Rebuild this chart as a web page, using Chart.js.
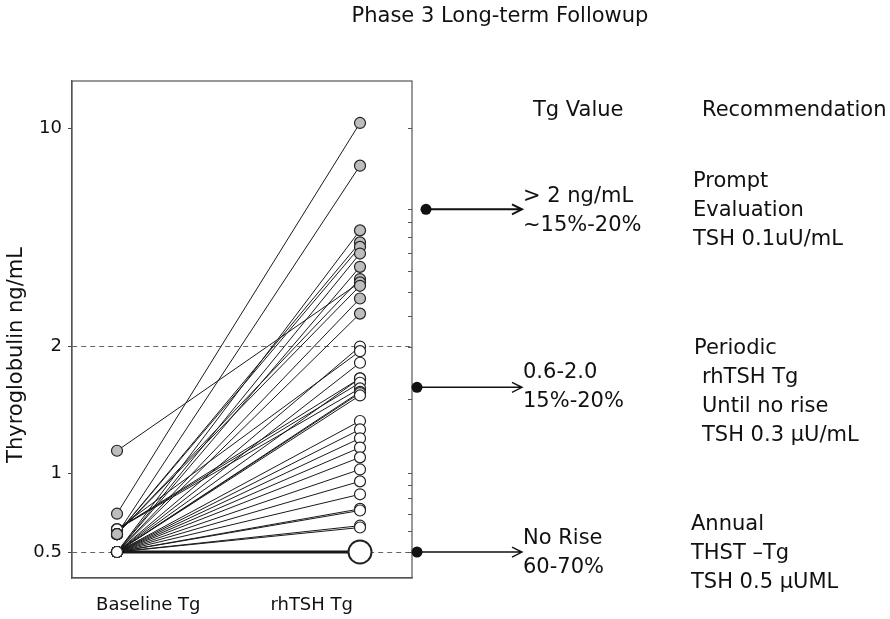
<!DOCTYPE html>
<html>
<head>
<meta charset="utf-8">
<script src="https://cdn.jsdelivr.net/npm/chart.js@4.4.1/dist/chart.umd.min.js"></script>
<style>
  html, body { margin: 0; padding: 0; background: #fff; }
  #wrap { width: 890px; height: 619px; }
</style>
</head>
<body>
<div id="wrap"><canvas id="tgChart"></canvas></div>
<script>
// categories on the x axis
const categories = ["Baseline Tg", "rhTSH Tg"];

// one entry per patient: baseline Tg and stimulated (rhTSH) Tg, ng/mL
const baselineTg = [
    0.5, 0.5, 0.5, 0.5, 0.5, 0.5, 0.5, 0.5, 0.5, 0.5, 0.5, 0.5, 0.5,
    0.5, 0.5, 0.5, 0.5, 0.5, 0.5,
    0.61, 0.61, 0.61, 0.61,
    0.5, 0.5, 0.5, 0.5, 0.5,
    1.13, 0.7,
    0.585, 0.585, 0.585, 0.585, 0.585
];
const rhtshTg = [
    0.5, 0.62, 0.63, 0.72, 0.73, 0.83, 0.93, 1.02, 1.09, 1.15, 1.21, 1.27, 1.33,
    1.53, 1.55, 1.56, 1.83, 2.0, 1.68,
    1.95, 1.64, 1.59, 1.68,
    4.71, 3.97, 3.6, 2.85, 2.55,
    3.21, 10.4,
    7.59, 4.31, 4.17, 3.29, 3.13
];

// axis ticks
const yTickValues = [0.5, 1, 2, 10];
const yMinorTicks = [0.6, 0.7, 0.8, 0.9, 1.5, 2.5, 3, 3.5, 4, 4.5, 5, 5.5];
const cutoffLevels = [0.5, 2];

// side annotations
const arrowLevels = [5.5, 1.6, 0.5];
const tgValueText = [["> 2 ng/mL", "~15%-20%"], ["0.6-2.0", "15%-20%"], ["No Rise", "60-70%"]];
const recommendText = [
    ["Prompt", "Evaluation", "TSH 0.1uU/mL"],
    ["Periodic", "rhTSH Tg", "Until no rise", "TSH 0.3 \u03bcU/mL"],
    ["Annual", "THST \u2013Tg", "TSH 0.5 \u03bcUML"]
];

const FONT = "'DejaVu Sans', 'Verdana', sans-serif";
const GRAY = "#bdbdbd";

// the original axis is log within each labelled interval but the intervals
// are not equally spaced; stops are [value, fraction of plot height]
const yAxisStops = [[0.5, 0.0523], [1, 0.2111], [2, 0.4657], [10, 0.9049]];

const LogScale = Chart.LogarithmicScale || Chart.registry.getScale("logarithmic");
class SegmentedLogScale extends LogScale {
    static id = "segmentedLog";
    static defaults = LogScale.defaults;
    toDecimal(v) {
        const s = yAxisStops;
        let i = 0;
        while (i < s.length - 2 && v > s[i + 1][0]) i++;
        const [v0, d0] = s[i], [v1, d1] = s[i + 1];
        return d0 + (Math.log(v) - Math.log(v0)) / (Math.log(v1) - Math.log(v0)) * (d1 - d0);
    }
    fromDecimal(d) {
        const s = yAxisStops;
        let i = 0;
        while (i < s.length - 2 && d > s[i + 1][1]) i++;
        const [v0, d0] = s[i], [v1, d1] = s[i + 1];
        return Math.exp(Math.log(v0) + (d - d0) / (d1 - d0) * (Math.log(v1) - Math.log(v0)));
    }
    getPixelForValue(v) {
        if (v === undefined || v === null || !(v > 0)) v = this.min;
        return this.getPixelForDecimal(this.toDecimal(v));
    }
    getValueForPixel(p) {
        return this.fromDecimal(this.getDecimalForPixel(p));
    }
}
Chart.register(SegmentedLogScale);

const idx = baselineTg.map((_, i) => i);
const isGrayBase = (i) => baselineTg[i] > 0.5 && rhtshTg[i] > 2;
const noRise = (i) => rhtshTg[i] === baselineTg[i];

// connecting lines, drawn below all markers
const lineSets = idx.map((i) => ({
    data: [{ x: 0, y: baselineTg[i] }, { x: 1, y: rhtshTg[i] }],
    showLine: true,
    borderColor: "#1a1a1a",
    borderWidth: noRise(i) ? 3 : 1,
    pointRadius: 0,
    order: 1
}));

const basePoints = idx.slice().sort((a, b) => baselineTg[b] - baselineTg[a])
    .map((i) => ({ x: 0, y: baselineTg[i], i: i }));
const rhPoints = idx.slice().sort((a, b) => rhtshTg[b] - rhtshTg[a])
    .map((i) => ({ x: 1, y: rhtshTg[i], i: i }));

const markerSets = [
    {
        data: basePoints,
        pointRadius: 5.5,
        pointBackgroundColor: (c) => (c.raw && isGrayBase(c.raw.i) ? GRAY : "#fff"),
        pointBorderColor: "#222",
        pointBorderWidth: 1.2,
        order: 0
    },
    {
        data: rhPoints,
        pointRadius: (c) => (c.raw && noRise(c.raw.i) ? 11.5 : 5.5),
        pointBackgroundColor: (c) => (c.raw && c.raw.y > 2 ? GRAY : "#fff"),
        pointBorderColor: "#222",
        pointBorderWidth: (c) => (c.raw && noRise(c.raw.i) ? 2 : 1.2),
        order: 0
    }
];

const decor = {
    id: "decor",
    afterDraw(chart) {
        const { ctx, chartArea: a } = chart;
        const y = chart.scales.y;
        ctx.save();

        // frame
        ctx.strokeStyle = "#555";
        ctx.lineWidth = 1.2;
        ctx.strokeRect(a.left, a.top, a.right - a.left, a.bottom - a.top);

        // inner ticks on the right side
        ctx.beginPath();
        yMinorTicks.concat(yTickValues).forEach((v) => {
            const py = Math.round(y.getPixelForValue(v)) + 0.5;
            ctx.moveTo(a.right - 4, py);
            ctx.lineTo(a.right, py);
        });
        ctx.lineWidth = 1;
        ctx.stroke();

        // arrows
        const dotX = [426, 417, 417];
        const tipX = 522;
        arrowLevels.forEach((v, k) => {
            const py = y.getPixelForValue(v);
            ctx.strokeStyle = "#111";
            ctx.fillStyle = "#111";
            ctx.lineWidth = k === 0 ? 2 : 1.4;
            ctx.beginPath();
            ctx.moveTo(dotX[k], py);
            ctx.lineTo(tipX, py);
            ctx.moveTo(tipX - 10, py - 5);
            ctx.lineTo(tipX, py);
            ctx.lineTo(tipX - 10, py + 5);
            ctx.stroke();
            ctx.beginPath();
            ctx.arc(dotX[k], py, 5.5, 0, Math.PI * 2);
            ctx.fill();
        });

        // texts
        ctx.fillStyle = "#111";
        ctx.font = "21px " + FONT;
        ctx.textBaseline = "middle";
        ctx.textAlign = "center";
        ctx.fillText("Phase 3 Long-term Followup", 500, 17);

        ctx.textAlign = "left";
        ctx.fillText("Tg Value", 533, 111);
        ctx.fillText("Recommendation", 702, 111);

        const tgY = [197, 373, 539];
        tgValueText.forEach((lines, k) => {
            lines.forEach((t, j) => ctx.fillText(t, 523, tgY[k] + j * 29));
        });

        const recY = [182, 349, 525];
        const recX = [[693, 693, 693], [694, 702, 702, 702], [691, 691, 691]];
        recommendText.forEach((lines, k) => {
            lines.forEach((t, j) => ctx.fillText(t, recX[k][j], recY[k] + j * 29));
        });

        // y axis title
        ctx.save();
        ctx.translate(17, 355);
        ctx.rotate(-Math.PI / 2);
        ctx.textAlign = "center";
        ctx.fillText("Thyroglobulin ng/mL", 0, 0);
        ctx.restore();

        ctx.restore();
    }
};

new Chart(document.getElementById("tgChart"), {
    type: "scatter",
    data: { datasets: lineSets.concat(markerSets) },
    options: {
        responsive: true,
        maintainAspectRatio: false,
        animation: false,
        layout: { padding: { top: 81, right: 478, bottom: 0, left: 0 } },
        plugins: { legend: { display: false }, tooltip: { enabled: false } },
        scales: {
            x: { type: "linear", display: false, min: -0.1852, max: 1.214 },
            xl: {
                type: "linear",
                position: "bottom",
                min: -0.467,
                max: 1.614,
                afterBuildTicks: (s) => { s.ticks = categories.map((_, k) => ({ value: k })); },
                afterFit: (s) => { s.height = 41; },
                ticks: {
                    callback: (v) => categories[v],
                    font: { family: FONT, size: 18 },
                    color: "#111",
                    padding: 17,
                    maxRotation: 0
                },
                grid: { drawOnChartArea: false, drawTicks: false },
                border: { color: "#555", width: 1.2 }
            },
            y: {
                type: "segmentedLog",
                position: "left",
                min: 0.4,
                max: 14,
                afterBuildTicks: (s) => { s.ticks = yTickValues.map((v) => ({ value: v })); },
                afterFit: (s) => { s.width = 72; },
                ticks: {
                    callback: (v) => String(v),
                    font: { family: FONT, size: 18 },
                    color: "#111",
                    padding: 6
                },
                grid: {
                    color: (c) => (c.tick && cutoffLevels.includes(c.tick.value) ? "#666" : "rgba(0,0,0,0)"),
                    tickColor: "#444",
                    tickLength: 4,
                    lineWidth: 1
                },
                border: { color: "#555", width: 1.2, dash: [5, 4] }
            }
        }
    },
    plugins: [decor]
});
</script>
</body>
</html>
